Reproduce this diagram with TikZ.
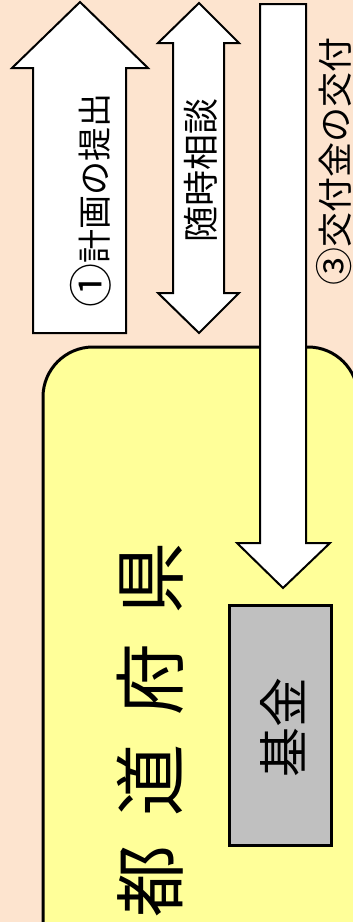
\documentclass[tikz,border=0pt]{standalone}
\usepackage{fontspec}
\setmainfont{Noto Sans CJK JP}
\newfontfamily\jpfont{Noto Sans CJK JP}
\newfontfamily\jpwide[LetterSpace=40]{Noto Sans CJK JP}
\definecolor{bgPeach}{RGB}{253,228,207}
\definecolor{prefYellow}{RGB}{255,255,153}
\definecolor{fundGray}{RGB}{192,192,192}
\newcommand{\bignum}[2]{{\fontsize{#1}{#1}\selectfont #2}}
\begin{document}
\begin{tikzpicture}[x=1pt, y=-1pt]
% block arrows and boxes, in pixel units of the reference
\providecommand{\arrowLineWidth}{2pt}
\providecommand{\boxLineWidth}{3pt}
\tikzset{
  blockarrow/.style={draw=black, fill=white, line width=\arrowLineWidth, line join=miter},
  prefbox/.style={draw=black, fill=prefYellow, line width=\boxLineWidth, rounded corners=50pt},
  fundbox/.style={draw=black, fill=fundGray, line width=\boxLineWidth},
  vlabel/.style={rotate=90, inner sep=0pt, font=\jpfont}
}
% Background
\fill[bgPeach] (0,0) rectangle (353,922);
\useasboundingbox (0,0) rectangle (353,922);
\begin{scope}
  % Prefecture
  \path[prefbox] (43,347) rectangle (358,1000);
  % Up arrow: plan
  \path[blockarrow] (33,333) -- (33,68) -- (12,68) -- (80,2) -- (148,68)
    -- (126,68) -- (126,333) -- cycle;
  % Double arrow: consultation
  \path[blockarrow] (199,3) -- (239,43) -- (224,43) -- (224,293) -- (239,293)
    -- (199,333) -- (158,293) -- (173,293) -- (173,43) -- (158,43) -- cycle;
  % Down arrow: grant
  \path[blockarrow] (260,4) -- (306,4) -- (306,543) -- (330,543) -- (283,588)
    -- (237,543) -- (260,543) -- cycle;
  % Fund
  \path[fundbox] (229,605) rectangle (331,845);
\end{scope}
% Labels
\node[vlabel, font=\jpfont\fontsize{34}{34}\selectfont] (plan) at (91,200) {\bignum{44}{①}計画の提出};
\node[vlabel, font=\jpfont\fontsize{36}{36}\selectfont] (consult) at (201,170) {随時相談};
\node[vlabel, font=\jpfont\fontsize{35}{35}\selectfont] (grant) at (334,161) {\bignum{38}{③}交付金の交付};
\node[vlabel, font=\jpfont\fontsize{50}{50}\selectfont] (fund) at (283,727) {基金};
\node[vlabel, font=\jpwide\fontsize{72}{72}\selectfont] (pref) at (150,730) {都道府県};
\end{tikzpicture}
\end{document}
